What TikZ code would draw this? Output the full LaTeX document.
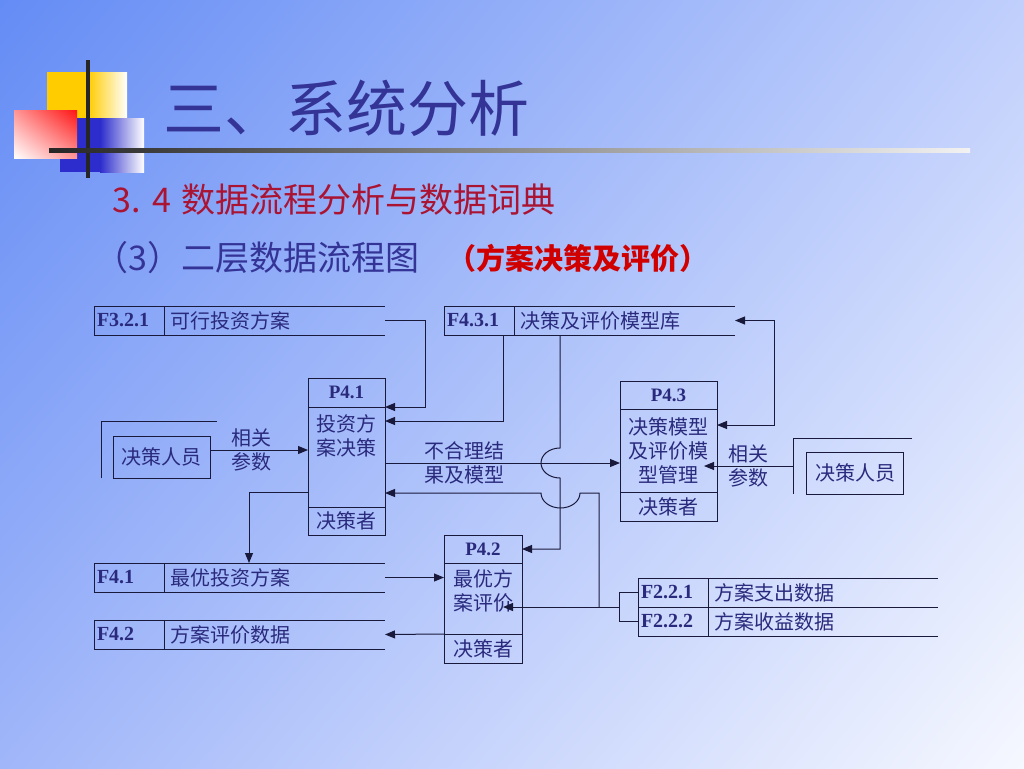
\documentclass[tikz,border=0pt]{standalone}
\usepackage{fontspec}
\setmainfont{Liberation Serif}
\newfontfamily\cjk{Noto Sans CJK SC}
\usetikzlibrary{positioning,arrows.meta,shadings}
\definecolor{bgul}{RGB}{100,140,245}
\definecolor{bgur}{RGB}{192,207,252}
\definecolor{bgll}{RGB}{160,182,249}
\definecolor{bglr}{RGB}{246,248,255}
\definecolor{titlec}{RGB}{52,52,150}
\definecolor{subred}{RGB}{170,20,50}
\definecolor{linec}{RGB}{25,25,60}
\definecolor{textc}{RGB}{42,42,125}
\definecolor{logoy}{RGB}{255,204,0}
\definecolor{logob}{RGB}{45,45,205}
\definecolor{logor}{RGB}{255,20,20}
\begin{document}
\begin{tikzpicture}[x=1pt,y=-1pt,
    store/.style={draw=linec,line width=1pt},
    flow/.style={draw=linec,line width=1pt,-{Triangle[length=10pt,width=8pt]}},
    bothflow/.style={draw=linec,line width=1pt,{Triangle[length=10pt,width=8pt]}-{Triangle[length=10pt,width=8pt]}},
    idbox/.style={draw=linec,line width=1pt,outer sep=0pt,anchor=north west,
      minimum height=29pt,text width=64pt,inner xsep=3pt,inner ysep=0pt,align=left,
      font=\fontsize{20}{22}\selectfont\bfseries,text=textc},
    storetext/.style={anchor=west,inner sep=0pt,font=\cjk\fontsize{20}{24}\selectfont,text=textc},
    ptitle/.style={draw=linec,line width=1pt,outer sep=0pt,inner sep=0pt,
      font=\fontsize{19}{22}\selectfont\bfseries,text=textc},
    pbody/.style={draw=linec,line width=1pt,outer sep=0pt,inner sep=0pt,align=center,
      font=\cjk\fontsize{20}{24}\selectfont,text=textc},
    entity/.style={draw=linec,line width=1pt,outer sep=0pt,minimum width=97pt,minimum height=42pt,
      font=\cjk\fontsize{20}{24}\selectfont,text=textc},
    lbl/.style={inner sep=2pt,align=center,font=\cjk\fontsize{20}{24}\selectfont,text=textc}]
  \useasboundingbox (0,0) rectangle (1024,768);
  \shade[upper left=bgul,upper right=bgur,lower left=bgll,lower right=bglr] (0,0) rectangle (1024,768);
  % logo
  \fill[logoy] (47,72) rectangle (88,150);
  \shade[left color=logoy,right color=white] (88,72) rectangle (127,150);
  \fill[logob] (60,118) rectangle (100,172);
  \shade[left color=logob,right color=white] (100,118) rectangle (144,172);
  \shade[upper right=logor,lower left=white,upper left=logor!45!white,lower right=logor!45!white] (14,110) rectangle (77,158);
  \fill[black!85] (85.5,60) rectangle (89.5,178);
  \shade[left color=black!85,right color=white!90!gray] (49,148) rectangle (970,152);
  % titles
  \node[anchor=west,inner sep=0pt,text=titlec,font=\cjk\fontsize{61}{70}\selectfont] (title) at (163,108) {三、系统分析};
  \node[anchor=west,inner sep=0pt,text=subred,font=\cjk\fontsize{34}{40}\selectfont] (sub) at (112,200) {3.\hspace{12pt}4\hspace{10pt}数据流程分析与数据词典};
  \node[anchor=west,inner sep=0pt,text=titlec,font=\cjk\fontsize{34}{40}\selectfont] (sub2) at (94,258) {（3）二层数据流程图};
  \node[anchor=west,inner sep=0pt,text=red!82!black,font=\cjk\fontsize{29}{32}\selectfont\bfseries] (sub3) at (447,258) {（方案决策及评价）};
  % data stores
  \node[idbox] (f321) at (94,306) {F3.2.1};
  \node[storetext] (f321l) at ([xshift=6pt]f321.east) {可行投资方案};
  \coordinate (f321r) at (385,320.5);
  \draw[store] (f321.north west) -- (f321.north west -| f321r);
  \draw[store] (f321.south west) -- (f321.south west -| f321r);
  \node[idbox] (f431) at (444,306) {F4.3.1};
  \node[storetext] (f431l) at ([xshift=6pt]f431.east) {决策及评价模型库};
  \coordinate (f431r) at (735,320.5);
  \draw[store] (f431.north west) -- (f431.north west -| f431r);
  \draw[store] (f431.south west) -- (f431.south west -| f431r);
  \node[idbox] (f41) at (94,563) {F4.1};
  \node[storetext] (f41l) at ([xshift=6pt]f41.east) {最优投资方案};
  \coordinate (f41r) at (385,577.5);
  \draw[store] (f41.north west) -- (f41.north west -| f41r);
  \draw[store] (f41.south west) -- (f41.south west -| f41r);
  \node[idbox] (f42) at (94,620) {F4.2};
  \node[storetext] (f42l) at ([xshift=6pt]f42.east) {方案评价数据};
  \coordinate (f42r) at (385,634.5);
  \draw[store] (f42.north west) -- (f42.north west -| f42r);
  \draw[store] (f42.south west) -- (f42.south west -| f42r);
  \node[idbox] (f221) at (638,578) {F2.2.1};
  \node[storetext] (f221l) at ([xshift=6pt]f221.east) {方案支出数据};
  \node[idbox,below=0pt of f221] (f222) {F2.2.2};
  \node[storetext] (f222l) at ([xshift=6pt]f222.east) {方案收益数据};
  \coordinate (f22r) at (938,607);
  \draw[store] (f221.north west) -- (f221.north west -| f22r);
  \draw[store] (f221.south west) -- (f221.south west -| f22r);
  \draw[store] (f222.south west) -- (f222.south west -| f22r);
  \draw[store] (f221.west) -- ++(-19,0) |- (f222.west);
  % processes
  \node[ptitle,minimum width=77pt,minimum height=29pt,anchor=north west] (p41t) at (308,378) {P4.1};
  \node[pbody,minimum width=77pt,minimum height=100pt,below=0pt of p41t] (p41b) {};
  \node[pbody,minimum width=77pt,minimum height=28pt,below=0pt of p41b] (p41r) {决策者};
  \node[lbl,below=5pt of p41b.north] (p41x) {投资方\\案决策};
  \node[ptitle,minimum width=97pt,minimum height=28pt,anchor=north west] (p43t) at (620,381) {P4.3};
  \node[pbody,minimum width=97pt,minimum height=83pt,below=0pt of p43t] (p43b) {决策模型\\及评价模\\型管理};
  \node[pbody,minimum width=97pt,minimum height=29pt,below=0pt of p43b] (p43r) {决策者};
  \node[ptitle,minimum width=78pt,minimum height=28pt,anchor=north west] (p42t) at (444,535) {P4.2};
  \node[pbody,minimum width=78pt,minimum height=71pt,below=0pt of p42t] (p42b) {};
  \node[pbody,minimum width=78pt,minimum height=29pt,below=0pt of p42b] (p42r) {决策者};
  \node[lbl,below=4pt of p42b.north] (p42x) {最优方\\案评价};
  % external entities
  \node[entity] (ent1) at (161.5,457) {决策人员};
  \draw[store] ([xshift=-12pt]ent1.south west) |- ([xshift=7pt,yshift=15pt]ent1.north east);
  \node[entity] (ent2) at (855,473) {决策人员};
  \draw[store] ([xshift=-13pt]ent2.south west) |- ([xshift=8pt,yshift=14pt]ent2.north east);
  % flows
  \draw[flow] (f321r) -- ++(40,0) |- (p41b.north east);
  \draw[flow] ([xshift=-11pt]f431.south east) |- ([yshift=-14pt]p41b.north east);
  \draw[flow] ([yshift=7pt]ent1.east) -- ([yshift=7pt]ent1.east -| p41b.west)
    node[lbl,pos=0.42,above] {相关} node[lbl,pos=0.42,below] {参数};
  \draw[flow] ([yshift=-56pt]p41b.north east) -- ([yshift=-56pt]p41b.north east -| p43b.west)
    node[lbl,pos=0.34,above] {不合理结} node[lbl,pos=0.34,below] {果及模型};
  \draw[flow] ([xshift=46pt]f431.south east) -- (560,448)
    .. controls (549.5,448) and (541,454.7) .. (541,463)
    .. controls (541,471.3) and (549.5,478) .. (560,478) |- (p42t.east);
  \draw[flow] ([xshift=-39pt]f221.south west) -- (599,493) -- (580,493)
    .. controls (580,501.3) and (571.3,508) .. (560.5,508)
    .. controls (549.7,508) and (541,501.3) .. (541,493) -- ([yshift=-86pt]p41b.north east);
  \draw[flow] ([xshift=-19pt]f221.south west) -- ([xshift=-19pt]f221.south west -| p42b.east);
  \draw[flow] (f41r) -- (f41r -| p42b.west);
  \draw[flow] (p42r.north west) -- (f42r);
  \draw[flow] ([yshift=-85pt]p41b.north west) -| ([xshift=155pt]f41.north west);
  \draw[bothflow] ([yshift=-16pt]p43b.north east) -- ++(57,0) |- (f431r);
  \draw[flow] ([xshift=-13pt,yshift=7pt]ent2.west) -- ([xshift=-13pt,yshift=7pt]ent2.west -| p43b.east)
    node[lbl,midway,above] {相关} node[lbl,midway,below] {参数};
\end{tikzpicture}
\end{document}
